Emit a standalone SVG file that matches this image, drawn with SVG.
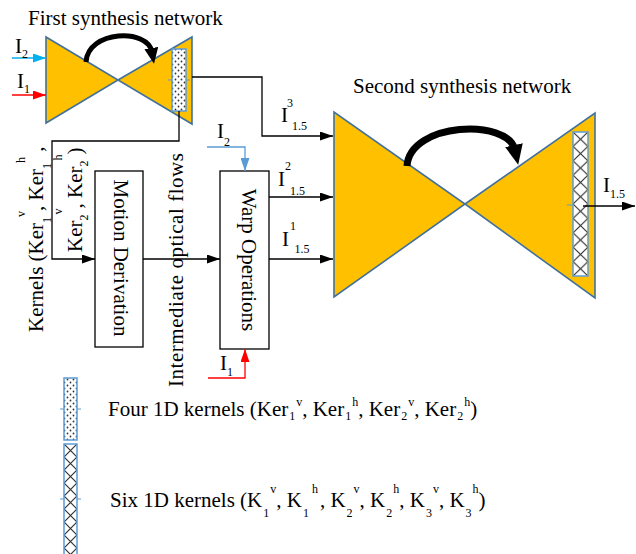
<svg xmlns="http://www.w3.org/2000/svg" width="636" height="554" viewBox="0 0 636 554">
<style>
text{font-family:"Liberation Serif","Times New Roman",serif;font-size:21px;fill:#000}
.s{font-size:12px}
.conn{fill:none;stroke:#000;stroke-width:1.3}
.tri{fill:#FFC000;stroke:#41719C;stroke-width:1.6;stroke-linejoin:miter}
.strip{stroke:#5B9BD5;stroke-width:1.5}
.tick{stroke:#5B9BD5;stroke-width:1}
.big{fill:none;stroke:#000}
</style>
<defs>
<marker id="ah" markerWidth="13" markerHeight="9" refX="13" refY="4.5" orient="auto" markerUnits="userSpaceOnUse"><path d="M0,0 L13,4.5 L0,9 z" fill="#000"/></marker>
<marker id="ahb" markerWidth="13" markerHeight="9" refX="13" refY="4.5" orient="auto" markerUnits="userSpaceOnUse"><path d="M0,0 L13,4.5 L0,9 z" fill="#00B0F0"/></marker>
<marker id="ahb2" markerWidth="13" markerHeight="9" refX="13" refY="4.5" orient="auto" markerUnits="userSpaceOnUse"><path d="M0,0 L13,4.5 L0,9 z" fill="#5B9BD5"/></marker>
<marker id="ahr" markerWidth="13" markerHeight="9" refX="13" refY="4.5" orient="auto" markerUnits="userSpaceOnUse"><path d="M0,0 L13,4.5 L0,9 z" fill="#FF0000"/></marker>
<marker id="big1" markerWidth="16" markerHeight="14" refX="4" refY="7" orient="auto" markerUnits="userSpaceOnUse"><path d="M0,0 L16,7 L0,14 z" fill="#000"/></marker>
<marker id="big2" markerWidth="20" markerHeight="18" refX="5" refY="9" orient="auto" markerUnits="userSpaceOnUse"><path d="M0,0 L20,9 L0,18 z" fill="#000"/></marker>
<pattern id="dots" x="0" y="0" width="6" height="6" patternUnits="userSpaceOnUse"><rect width="6" height="6" fill="#fff"/><circle cx="1.5" cy="1.5" r="0.9" fill="#333"/><circle cx="4.5" cy="4.5" r="0.9" fill="#333"/></pattern>
<pattern id="hatchA" x="573" y="132" width="15" height="14.4" patternUnits="userSpaceOnUse"><rect width="15" height="14.4" fill="#fff"/><path d="M0,0 L15,14.4 M15,0 L0,14.4" stroke="#333" stroke-width="1.2"/></pattern>
<pattern id="hatchB" x="64" y="444" width="13" height="13" patternUnits="userSpaceOnUse"><rect width="13" height="13" fill="#fff"/><path d="M0,0 L13,13 M13,0 L0,13" stroke="#333" stroke-width="1.2"/></pattern>
</defs>

<g id="first-network">
<text x="28" y="25">First synthesis network</text>
<polygon class="tri" points="46,37 46,123 118,80"/>
<polygon class="tri" points="118,80 192,37 192,124"/>
<rect class="strip" x="172" y="49" width="14" height="62" fill="url(#dots)"/>
<path class="tick" d="M168,80 H172 M186,80 H190"/>
<path class="big" stroke-width="5" d="M86,62 C88,30 148,28 152,52" marker-end="url(#big1)"/>
</g>

<g id="second-network">
<text x="353" y="93">Second synthesis network</text>
<polygon class="tri" points="334,112 334,297 465,204"/>
<polygon class="tri" points="465,204 595,113 595,298"/>
<rect class="strip" x="573" y="132" width="15" height="144" fill="url(#hatchA)"/>
<path class="tick" d="M567,205 H573"/>
<path class="big" stroke-width="7" d="M407,166 C410,122 508,118 515,150" marker-end="url(#big2)"/>
</g>

<g id="motion-derivation">
<rect x="95" y="171" width="48" height="176" fill="#fff" stroke="#000" stroke-width="1.3"/>
<text transform="translate(114,258) rotate(90)" text-anchor="middle">Motion Derivation</text>
</g>

<g id="warp-operations">
<rect x="220" y="171" width="49" height="178" fill="#fff" stroke="#000" stroke-width="1.3"/>
<text transform="translate(242,260) rotate(90)" text-anchor="middle">Warp Operations</text>
</g>

<g id="connectors">
<path class="conn" d="M192,77 H262 V136 H333" marker-end="url(#ah)"/>
<path class="conn" d="M179,111 V141 H52 V259 H95" marker-end="url(#ah)"/>
<path class="conn" d="M143,259 H220" marker-end="url(#ah)"/>
<path class="conn" d="M269,197 H333" marker-end="url(#ah)"/>
<path class="conn" d="M269,259 H333" marker-end="url(#ah)"/>
<path class="conn" d="M583,206 H635" marker-end="url(#ah)"/>
<path class="conn" style="stroke:#00B0F0" d="M12,58 H46" marker-end="url(#ahb)"/>
<path class="conn" style="stroke:#FF0000" d="M12,95 H46" marker-end="url(#ahr)"/>
<path class="conn" style="stroke:#5B9BD5" d="M207,147 H245 V171" marker-end="url(#ahb2)"/>
<path class="conn" style="stroke:#FF0000" d="M208,378 H245 V349" marker-end="url(#ahr)"/>
</g>

<g id="labels">
<text x="15" y="53">I<tspan class="s" dy="5">2</tspan></text>
<text x="17" y="88">I<tspan class="s" dy="5">1</tspan></text>
<text x="281" y="122">I<tspan class="s" dx="-1" dy="-15">3</tspan><tspan class="s" dx="-1" dy="23">1.5</tspan></text>
<text x="278" y="186">I<tspan class="s" dx="0" dy="-16">2</tspan><tspan class="s" dx="-1" dy="25">1.5</tspan></text>
<text x="282" y="246">I<tspan class="s" dx="1" dy="-16">1</tspan><tspan class="s" dx="-1" dy="23">1.5</tspan></text>
<text x="217" y="138">I<tspan class="s" dy="8">2</tspan></text>
<text x="220" y="370">I<tspan class="s" dy="6">1</tspan></text>
<text x="603" y="192">I<tspan class="s" dy="6">1.5</tspan></text>
<text transform="translate(43,332) rotate(-90)">Kernels (Ker<tspan class="s" dy="8">1</tspan><tspan class="s" dy="-26">v</tspan><tspan dy="18">, Ker</tspan><tspan class="s" dy="8">1</tspan><tspan class="s" dy="-26">h</tspan><tspan dy="18"> ,</tspan></text>
<text transform="translate(82,252) rotate(-90)">Ker<tspan class="s" dy="6">2</tspan><tspan class="s" dy="-26">v</tspan><tspan dy="20">, Ker</tspan><tspan class="s" dy="6">2</tspan><tspan class="s" dy="-26">h</tspan><tspan dy="20">)</tspan></text>
<text transform="translate(183,387) rotate(-90)" textLength="234" lengthAdjust="spacing">Intermediate optical flows</text>
</g>

<g id="legend">
<rect class="strip" x="64" y="378" width="13" height="62" fill="url(#dots)"/>
<path class="tick" d="M60,409 H64 M77,409 H81"/>
<rect class="strip" x="64" y="444" width="13" height="112" fill="url(#hatchB)"/>
<path class="tick" d="M60,499 H64 M77,499 H81"/>
<text x="108" y="416">Four 1D kernels (Ker<tspan class="s" dx="1" dy="4">1</tspan><tspan class="s" dx="1" dy="-14">v</tspan><tspan dy="10">, Ker</tspan><tspan class="s" dx="1" dy="4">1</tspan><tspan class="s" dx="1" dy="-14">h</tspan><tspan dy="10">, Ker</tspan><tspan class="s" dx="1" dy="4">2</tspan><tspan class="s" dx="1" dy="-14">v</tspan><tspan dy="10">, Ker</tspan><tspan class="s" dx="1" dy="4">2</tspan><tspan class="s" dx="1" dy="-14">h</tspan><tspan dy="10">)</tspan></text>
<text x="110" y="507">Six 1D kernels (K<tspan class="s" dx="1" dy="10">1</tspan><tspan class="s" dx="1" dy="-24">v</tspan><tspan dy="14">, K</tspan><tspan class="s" dx="1" dy="10">1</tspan><tspan class="s" dx="3" dy="-24">h</tspan><tspan dx="2" dy="14">, K</tspan><tspan class="s" dx="1" dy="10">2</tspan><tspan class="s" dx="1" dy="-24">v</tspan><tspan dy="14">, K</tspan><tspan class="s" dx="1" dy="10">2</tspan><tspan class="s" dx="1" dy="-24">h</tspan><tspan dy="14">, K</tspan><tspan class="s" dx="1" dy="10">3</tspan><tspan class="s" dx="1" dy="-24">v</tspan><tspan dy="14">, K</tspan><tspan class="s" dx="1" dy="10">3</tspan><tspan class="s" dx="1" dy="-24">h</tspan><tspan dy="14">)</tspan></text>
</g>
</svg>
